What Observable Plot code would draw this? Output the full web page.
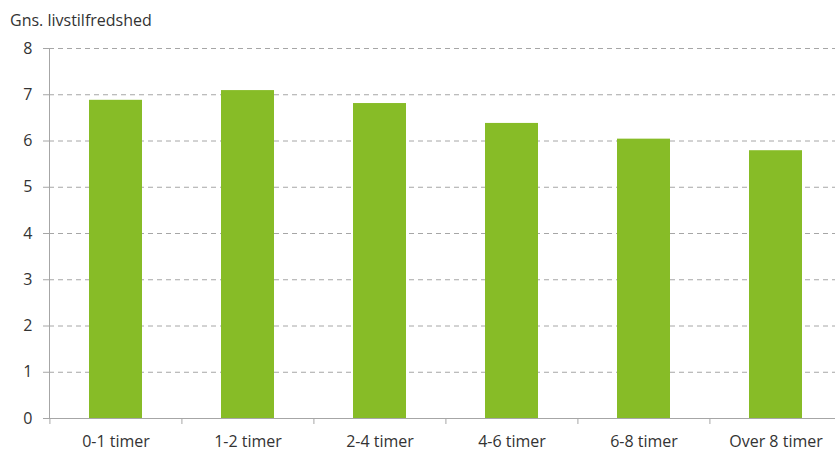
<!DOCTYPE html>
<html><head><meta charset="utf-8">
<script src="https://cdn.jsdelivr.net/npm/d3@7"></script>
<script src="https://cdn.jsdelivr.net/npm/@observablehq/plot@0.6"></script>
<style>
body{margin:0;background:#fff;font-family:"Open Sans",sans-serif;overflow:hidden}
#title{height:34px;box-sizing:border-box;padding:10px 0 0 10px;font-size:16px;line-height:20px;color:#333}
</style></head><body>
<div id="title">Gns. livstilfredshed</div>
<div id="chart"></div>
<script>
const categories = ["0-1 timer", "1-2 timer", "2-4 timer", "4-6 timer", "6-8 timer", "Over 8 timer"];
const values = [6.88, 7.09, 6.81, 6.38, 6.04, 5.79];
const yTicks = [0, 1, 2, 3, 4, 5, 6, 7, 8];

const data = categories.map((c, i) => ({category: c, value: values[i]}));
const width = 835, marginLeft = 49, marginRight = -7;
const step = (width - marginLeft - marginRight) / categories.length;
const gray = "#a6a6a6";

const plot = Plot.plot({
  width, height: 417, marginTop: 14, marginBottom: 33, marginLeft, marginRight,
  style: {fontFamily: '"Open Sans", sans-serif', fontSize: "16px", color: "#333", background: "#fff", overflow: "hidden"},
  x: {domain: categories, paddingInner: 0.6, paddingOuter: 0.3, label: null},
  y: {domain: [0, 8], label: null},
  marks: [
    Plot.gridY(yTicks.filter(d => d > 0), {stroke: gray, strokeOpacity: 1, strokeDasharray: "5,4"}),
    Plot.barY(data, {x: "category", y: "value", fill: "#87bc27"}),
    Plot.ruleY([0], {stroke: gray}),
    Plot.frame({anchor: "left", stroke: gray}),
    Plot.axisY(yTicks, {tickSize: 6, tickPadding: 11, stroke: gray, fill: "#333", fontSize: 16, label: null}),
    Plot.axisX({tickSize: 6, text: null, dx: -step / 2, stroke: gray, label: null}),
    Plot.axisX({tickSize: 0, tickPadding: 17, fill: "#333", fontSize: 16, label: null})
  ]
});
document.getElementById("chart").appendChild(plot);
</script>
</body></html>
